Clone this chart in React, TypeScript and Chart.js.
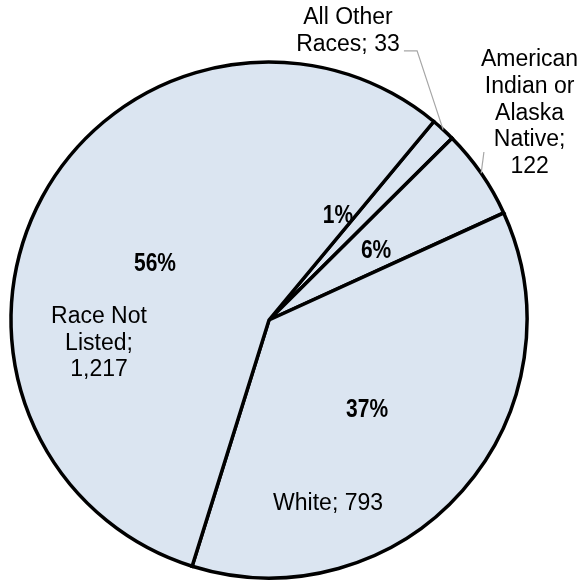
import React, { useEffect, useRef } from "react";
import { Chart, registerables } from "chart.js";

Chart.register(...registerables);

// ---- data ----
const categories = ["All Other Races", "American Indian or Alaska Native", "White", "Race Not Listed"];
const counts = [33, 122, 793, 1217];
const percentLabels = ["1%", "6%", "37%", "56%"];

const FILL = "#dbe5f1";
const FONT_FAMILY = '"Liberation Sans", Arial, Helvetica, sans-serif';

export default function App() {
  const ref = useRef<HTMLCanvasElement>(null);

  useEffect(() => {
    const canvas = ref.current;
    if (!canvas) return;

    // label layout in units of the pie radius, relative to the pie centre
    const layout = [
      { pct: [0.267, -0.376], cat: [0.306, -1.147], wrap: 110, leader: [[0.523, -1.043], [0.574, -1.043]] },
      { pct: [0.415, -0.240], cat: [1.010, -0.983], wrap: 110, leader: [[0.833, -0.651]] },
      { pct: [0.380, 0.376], cat: [0.229, 0.736], wrap: 220, leader: null },
      { pct: [-0.442, -0.191], cat: [-0.659, 0.012], wrap: 110, leader: null },
    ];

    const wrapText = (ctx: CanvasRenderingContext2D, text: string, maxW: number) => {
      const words = text.split(" ");
      const lines: string[] = [];
      let cur = "";
      for (const w of words) {
        const t = cur ? cur + " " + w : w;
        if (cur && ctx.measureText(t).width > maxW) {
          lines.push(cur);
          cur = w;
        } else cur = t;
      }
      if (cur) lines.push(cur);
      return lines;
    };

    const labelPlugin = {
      id: "sliceLabels",
      afterDatasetsDraw(chart: any) {
        const ctx: CanvasRenderingContext2D = chart.ctx;
        const arcs = chart.getDatasetMeta(0).data;
        arcs.forEach((arc: any, i: number) => {
          const p = arc.getProps(["x", "y", "outerRadius", "startAngle", "endAngle"], true);
          const cx = p.x, cy = p.y, R = p.outerRadius;
          const L = layout[i];
          const mid = (p.startAngle + p.endAngle) / 2;

          // leader line
          if (L.leader) {
            ctx.save();
            ctx.strokeStyle = "#a6a6a6";
            ctx.lineWidth = 1.2;
            ctx.beginPath();
            L.leader.forEach((pt, k) => {
              const X = cx + pt[0] * R, Y = cy + pt[1] * R;
              if (k === 0) ctx.moveTo(X, Y); else ctx.lineTo(X, Y);
            });
            ctx.lineTo(cx + Math.cos(mid) * R, cy + Math.sin(mid) * R);
            ctx.stroke();
            ctx.restore();
          }

          // percentage (bold, narrow)
          ctx.save();
          ctx.fillStyle = "#000";
          ctx.font = `bold 25px ${FONT_FAMILY}`;
          ctx.textAlign = "center";
          ctx.textBaseline = "alphabetic";
          ctx.translate(cx + L.pct[0] * R, cy + L.pct[1] * R);
          ctx.scale(0.84, 1);
          ctx.fillText(percentLabels[i], 0, 0);
          ctx.restore();

          // category label
          ctx.save();
          ctx.fillStyle = "#000";
          ctx.font = `23px ${FONT_FAMILY}`;
          ctx.textAlign = "center";
          ctx.textBaseline = "alphabetic";
          const text = `${categories[i]}; ${counts[i].toLocaleString("en-US")}`;
          const lines = wrapText(ctx, text, L.wrap);
          const x = cx + L.cat[0] * R;
          const y0 = cy + L.cat[1] * R;
          lines.forEach((ln, k) => ctx.fillText(ln, x, y0 + k * 26.7));
          ctx.restore();
        });
      },
    };

    const chart = new Chart(canvas, {
      type: "pie",
      data: {
        labels: categories,
        datasets: [
          {
            data: counts,
            backgroundColor: FILL,
            borderColor: "#000",
            borderWidth: 3.5,
            borderJoinStyle: "miter",
            hoverOffset: 0,
          } as any,
        ],
      },
      options: {
        responsive: false,
        animation: false,
        events: [],
        rotation: 39.7,
        radius: 258,
        layout: { padding: { left: 8, right: 50, top: 59, bottom: 0 } },
        plugins: {
          legend: { display: false },
          tooltip: { enabled: false },
        },
      } as any,
      plugins: [labelPlugin],
    });

    return () => chart.destroy();
  }, []);

  return (
    <div style={{ position: "absolute", left: 0, top: 0, width: 580, height: 581, background: "#fff" }}>
      <canvas ref={ref} width={580} height={581} style={{ display: "block" }} />
    </div>
  );
}
